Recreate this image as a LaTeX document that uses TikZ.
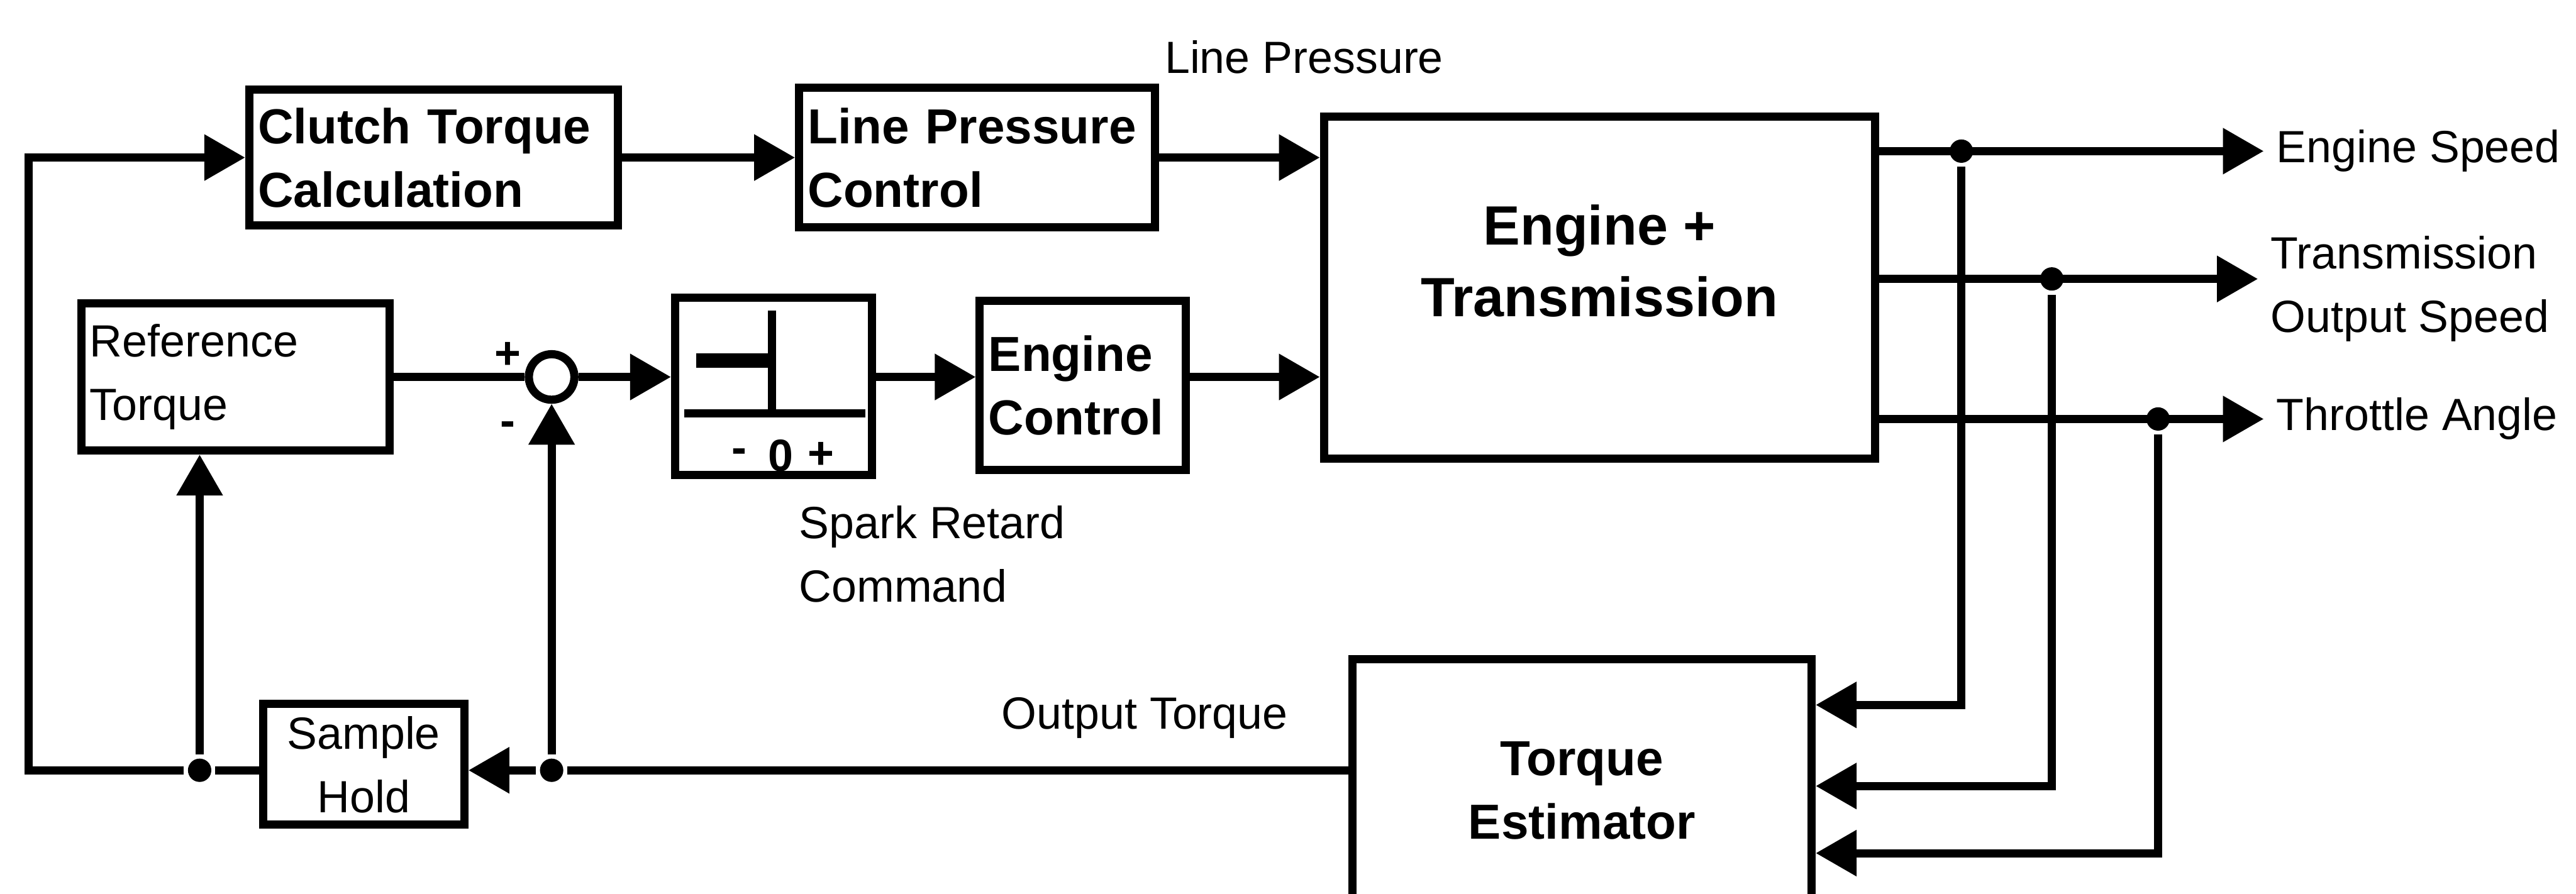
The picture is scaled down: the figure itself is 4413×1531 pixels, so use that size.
\documentclass[tikz,border=0pt]{standalone}
\usepackage{fontspec}
\setmainfont{Liberation Sans}
\usetikzlibrary{arrows.meta}

\begin{document}
\begin{tikzpicture}[
  x=0.1mm, y=-0.1mm, line width=1.4mm,
  >={Triangle[length=7mm, width=7.6mm]},
  blk/.style={draw, inner sep=1.5mm, align=left, font=\bfseries\fontsize{24}{31}\selectfont},
  plainblk/.style={draw, inner sep=1.5mm, align=left, font=\fontsize{22}{31}\selectfont},
  lbl/.style={inner sep=1.5mm, align=left, font=\fontsize{22}{31}\selectfont},
  sign/.style={inner sep=0pt, font=\bfseries\fontsize{22}{24}\selectfont},
  dot/.style={circle, fill, inner sep=0pt, minimum size=4mm},
  sumnode/.style={circle, draw, inner sep=0pt, minimum size=7.8mm}
]
\useasboundingbox (0,0) rectangle (4413,1531);
\clip (0,0) rectangle (4413,1531);

% top row
\node[blk, text width=60.2mm, minimum height=23.3mm] (clutch) at (743,270) {Clutch Torque\\Calculation};
\node[blk, text width=58mm, minimum height=23.9mm] (lpc) at (1674,270) {Line Pressure\\Control};
\node[lbl] (lplbl) at (2234,98) {Line Pressure};

% plant
\node[draw, minimum width=94.4mm, minimum height=58.6mm] (et) at (2740,493) {};
\node[align=center, yshift=4.6mm, font=\bfseries\fontsize{27}{35}\selectfont] (ettxt) at (et) {Engine +\\Transmission};

% middle row
\node[plainblk, text width=49.8mm, minimum height=25.2mm] (ref) at (403,646) {Reference\\Torque};
\node[sumnode] (sum) at (945,646) {};
\node[sign] (plus) at (870,609) {+};
\node[sign] (minus) at (870,735) {-};
\node[draw, minimum width=33.7mm, minimum height=30.3mm] (dz) at (1325,662) {};
\draw (1172,708) -- (1482,708);
\draw (1323,532) -- (1323,708);
\draw[line width=2.5mm] (1193,618) -- (1323,618);
\node[sign] (dzm) at (1266,781) {-};
\node[sign] (dzz) at (1338,781) {0};
\node[sign] (dzp) at (1406,781) {+};
\node[lbl, anchor=west] (spark) at (1347,950) {Spark Retard\\Command};
\node[blk, text width=32.3mm, minimum height=29mm] (ec) at (1855,660) {Engine\\Control};

% outputs
\node[lbl, anchor=west] (es) at (3878,259) {Engine Speed};
\node[lbl, anchor=west] (tos) at (3868,495) {Transmission\\Output Speed};
\node[lbl, anchor=west] (ta) at (3878,718) {Throttle Angle};

% estimator and feedback
\node[blk, align=center, minimum width=78.7mm, minimum height=45mm] (te) at (2710,1355) {Torque\\Estimator};
\node[plainblk, align=center, minimum width=34.5mm, minimum height=20.7mm] (sh) at (623,1310) {Sample\\Hold};
\node[lbl] (otl) at (1961,1230) {Output Torque};
\node[dot] (jl) at (342,1320) {};
\node[dot] (jr) at (945,1320) {};
\node[dot] (d1) at (3360,259) {};
\node[dot] (d2) at (3515,478) {};
\node[dot] (d3) at (3697,718) {};

% forward path
\draw[->] (clutch) -- (lpc);
\draw[->] (lpc.east) -- (lpc.east -| et.west);
\draw (ref) -- (sum);
\draw[->] (sum.east) -- (sum.east -| dz.west);
\draw[->] (dz.east |- sum) -- (ec.west |- sum);
\draw[->] (ec.east |- sum) -- (et.west |- sum);

% plant outputs
\draw[->] (et.east |- es) -- (es.west);
\draw[->] (et.east |- 0,478) -- (tos.west |- 0,478);
\draw[->] (et.east |- ta) -- (ta.west);

% estimator inputs
\draw[->] (d1) |- (te.east |- 0,1208);
\draw[->] (d2) |- (te.east |- 0,1347);
\draw[->] (d3) |- (te.east |- 0,1462);

% feedback
\draw (te.west |- jr) -- (jr);
\draw[->] (jr) -- (sh.east |- jr);
\draw (sh.west |- jl) -- (jl);
\draw[->] (jr) -- (sum);
\draw[->] (jl) -- (jl |- ref.south);
\draw[->] (jl) -- ++(-293,0) |- (clutch.west);

\end{tikzpicture}
\end{document}
